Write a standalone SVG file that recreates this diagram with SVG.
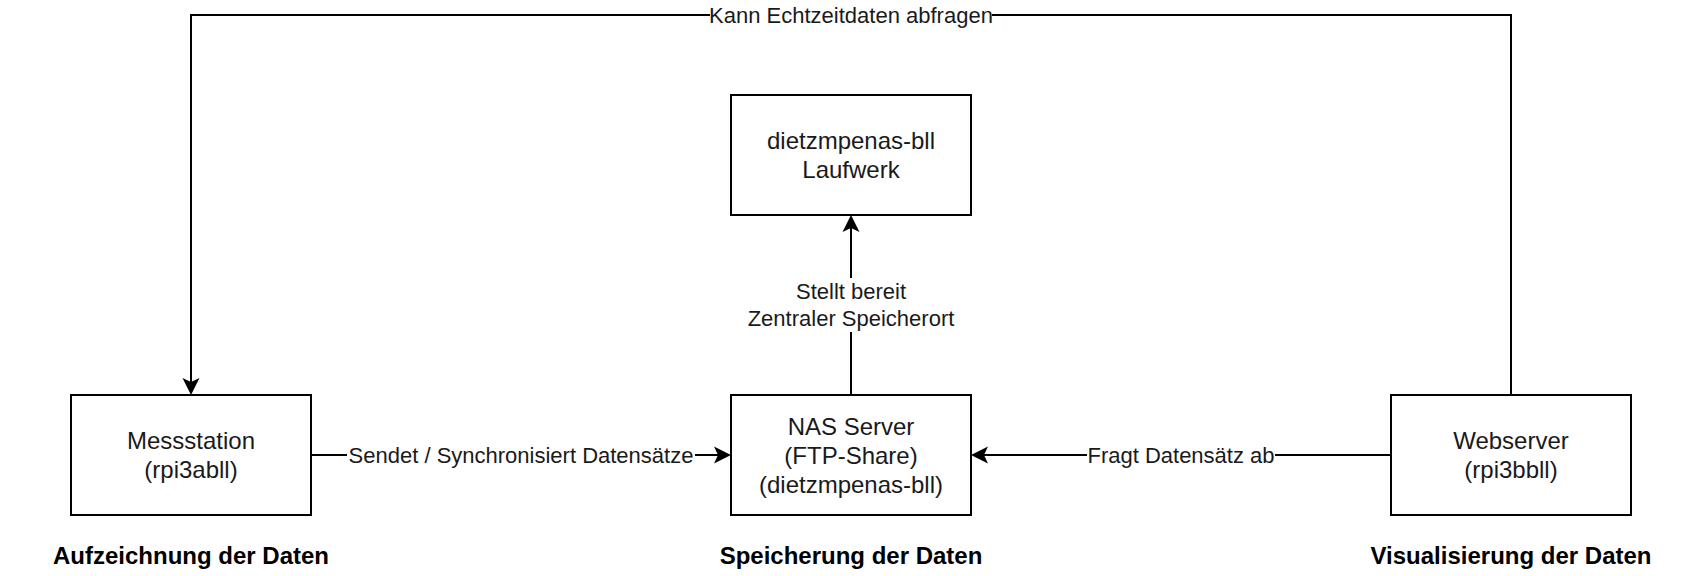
<svg xmlns="http://www.w3.org/2000/svg" width="1702" height="576" viewBox="0 0 1702 576">
<style>
.box{fill:#fff;stroke:#000;stroke-width:2}
.nt{font-family:"Liberation Sans",Arial,sans-serif;font-size:24px;fill:#1a1a1a;text-anchor:middle}
.lt{font-family:"Liberation Sans",Arial,sans-serif;font-size:22px;fill:#1a1a1a;text-anchor:middle}
.ht{font-family:"Liberation Sans",Arial,sans-serif;font-size:24px;font-weight:bold;fill:#000;text-anchor:middle}
.edge{fill:none;stroke:#000;stroke-width:2}
.bg{fill:#fff}
</style>
<defs>
<marker id="arr" markerUnits="userSpaceOnUse" markerWidth="20" markerHeight="20" viewBox="0 0 20 20" refX="5" refY="9" orient="auto">
<path d="M1,0.5 L18,9 L1,17.5 L5,9 Z" fill="#000"/>
</marker>
</defs>
<rect width="1702" height="576" fill="#fff"/>
<g id="connectors">
<path class="edge" d="M311,455 H718" marker-end="url(#arr)"/>
<path class="edge" d="M1391,455 H984" marker-end="url(#arr)"/>
<path class="edge" d="M851,395 V228" marker-end="url(#arr)"/>
<path class="edge" d="M1511,395 V15 H191 V382" marker-end="url(#arr)"/>
<rect class="bg" x="710" y="3" width="282" height="24"/>
<text class="lt" x="851" y="23">Kann Echtzeitdaten abfragen</text>
<rect class="bg" x="347" y="443" width="348" height="24"/>
<text class="lt" x="521" y="463">Sendet / Synchronisiert Datensätze</text>
<rect class="bg" x="1087" y="443" width="188" height="24"/>
<text class="lt" x="1181" y="463">Fragt Datensätz ab</text>
<rect class="bg" x="747" y="278" width="208" height="54"/>
<text class="lt" x="851" y="299">Stellt bereit</text>
<text class="lt" x="851" y="326">Zentraler Speicherort</text>
</g>
<g id="node-messstation">
<rect class="box" x="71" y="395" width="240" height="120"/>
<text class="nt" x="191" y="449">Messstation</text>
<text class="nt" x="191" y="478">(rpi3abll)</text>
</g>
<g id="node-nas">
<rect class="box" x="731" y="395" width="240" height="120"/>
<text class="nt" x="851" y="435">NAS Server</text>
<text class="nt" x="851" y="464">(FTP-Share)</text>
<text class="nt" x="851" y="493">(dietzmpenas-bll)</text>
</g>
<g id="node-webserver">
<rect class="box" x="1391" y="395" width="240" height="120"/>
<text class="nt" x="1511" y="449">Webserver</text>
<text class="nt" x="1511" y="478">(rpi3bbll)</text>
</g>
<g id="node-laufwerk">
<rect class="box" x="731" y="95" width="240" height="120"/>
<text class="nt" x="851" y="149">dietzmpenas-bll</text>
<text class="nt" x="851" y="178">Laufwerk</text>
</g>
<g id="header-aufzeichnung">
<text class="ht" x="191" y="564">Aufzeichnung der Daten</text>
</g>
<g id="header-speicherung">
<text class="ht" x="851" y="564">Speicherung der Daten</text>
</g>
<g id="header-visualisierung">
<text class="ht" x="1511" y="564">Visualisierung der Daten</text>
</g>
</svg>
